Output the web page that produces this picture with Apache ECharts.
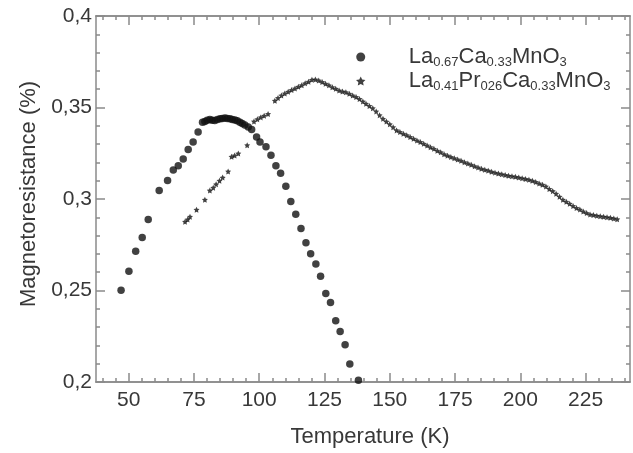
<!DOCTYPE html>
<html>
<head>
<meta charset="utf-8">
<script src="https://cdn.jsdelivr.net/npm/echarts@6/dist/echarts.min.js"></script>
<style>
  html, body { margin: 0; padding: 0; background: #fff; }
  #chartContainer { width: 633px; height: 453px; }
</style>
</head>
<body>
<div id="chartContainer"></div>
<script>
// La0.67Ca0.33MnO3 (dots)
const tempA = [47.1, 50.1, 52.7, 55.2, 57.5, 61.7, 64.9, 67.1, 69.0, 70.9, 72.8, 74.7, 76.6, 78.3,
  79.2, 80.1, 81.1, 82.0, 83.0, 84.0, 85.0, 85.9, 86.9, 87.8, 88.8, 89.7, 90.7, 91.6, 92.6, 93.5, 94.5, 95.8, 97.1,
  99.0, 100.3, 102.6, 104.5, 106.4, 108.2, 110.2, 112.1, 114.0, 116.0, 117.9, 119.7, 121.7, 123.5,
  125.5, 127.3, 129.3, 131.0, 132.9, 134.7, 138.0];
const mrA = [0.2501, 0.2605, 0.2714, 0.2789, 0.2888, 0.3047, 0.3101, 0.3158, 0.3182, 0.3218, 0.3270, 0.3312, 0.3366, 0.3420,
  0.3423, 0.3430, 0.3434, 0.3431, 0.3429, 0.3434, 0.3438, 0.3440, 0.3442, 0.3440, 0.3438, 0.3435, 0.3432, 0.3427, 0.3420, 0.3413, 0.3405, 0.3393, 0.3380,
  0.3339, 0.3312, 0.3285, 0.3239, 0.3182, 0.3141, 0.3069, 0.2986, 0.2917, 0.2839, 0.2761, 0.2701, 0.2645, 0.2578,
  0.2483, 0.2434, 0.2335, 0.2276, 0.2204, 0.2099, 0.2009];

// La0.41Pr0.26Ca0.33MnO3 (stars)
const tempB = [71.6, 72.6, 73.5, 76.0, 79.2, 81.1, 82.4, 83.5, 84.8, 86.0, 88.1, 89.4, 90.6, 92.0, 95.4,
  98.0, 99.3, 100.6, 101.9, 103.4,
  106.0, 107.2, 108.5, 109.8, 111.1, 112.4, 113.7, 115.0, 116.3, 117.6, 118.9, 120.2, 121.5, 122.8, 124.1, 125.4,
  126.7, 128.0, 129.3, 130.6, 131.9, 133.2, 134.5, 135.8, 137.1, 138.4, 139.7,
  140.9, 142.2, 143.5, 144.8, 146.1, 147.4, 148.7, 150.0, 151.3, 152.6, 153.9, 155.2, 156.5, 157.8, 159.1, 160.4,
  161.7, 163.0, 164.3, 165.6, 166.9, 168.2, 169.5, 170.8, 172.1, 173.4, 174.7, 176.0, 177.3, 178.6, 179.9, 181.2,
  182.5, 183.8, 185.1, 186.4, 187.7, 189.0, 190.3, 191.6, 192.9, 194.2, 195.5, 196.8, 198.1, 199.4, 200.7, 202.0,
  203.3, 204.6, 205.9, 207.2, 208.5, 209.8, 211.1, 212.4, 213.7, 215.0, 216.3, 217.6, 218.9, 220.2, 221.5, 222.8,
  224.1, 225.4, 226.7, 228.0, 229.3, 230.6, 231.9, 233.2, 234.5, 235.8, 237.1];
const mrB = [0.2876, 0.2888, 0.2903, 0.2941, 0.2996, 0.3046, 0.3062, 0.3080, 0.3100, 0.3117, 0.3150, 0.3231, 0.3238, 0.3249, 0.3294,
  0.3424, 0.3436, 0.3446, 0.3455, 0.3465,
  0.3537, 0.3552, 0.3566, 0.3577, 0.3586, 0.3595, 0.3604, 0.3613, 0.3622, 0.3632, 0.3641, 0.3651, 0.3653, 0.3648, 0.3639, 0.3630,
  0.3621, 0.3611, 0.3602, 0.3593, 0.3587, 0.3583, 0.3575, 0.3566, 0.3557, 0.3546, 0.3533,
  0.3521, 0.3508, 0.3496, 0.3478, 0.3458, 0.3438, 0.3423, 0.3408, 0.3392, 0.3375, 0.3366, 0.3357, 0.3348, 0.3339, 0.3329, 0.3320,
  0.3311, 0.3302, 0.3292, 0.3283, 0.3274, 0.3264, 0.3255, 0.3245, 0.3237, 0.3230, 0.3223, 0.3216, 0.3209, 0.3201, 0.3194, 0.3187,
  0.3179, 0.3172, 0.3165, 0.3160, 0.3155, 0.3149, 0.3144, 0.3139, 0.3135, 0.3131, 0.3127, 0.3124, 0.3121, 0.3117, 0.3113, 0.3109,
  0.3105, 0.3100, 0.3093, 0.3085, 0.3078, 0.3068, 0.3055, 0.3043, 0.3029, 0.3012, 0.2996, 0.2985, 0.2974, 0.2962, 0.2951, 0.2942,
  0.2932, 0.2923, 0.2915, 0.2912, 0.2909, 0.2906, 0.2903, 0.2900, 0.2897, 0.2893, 0.2889];

const seriesNames = ['La0.67Ca0.33MnO3', 'La0.41Pr026Ca0.33MnO3'];
const xMajorTicks = [50, 75, 100, 125, 150, 175, 200, 225];
const xMinorTicks = [40, 45, 55, 60, 65, 70, 80, 85, 90, 95, 105, 110, 115, 120, 130, 135, 140, 145,
  155, 160, 165, 170, 180, 185, 190, 195, 205, 210, 215, 220, 230, 235, 240];
const yTicks = [0.2, 0.25, 0.3, 0.35, 0.4];

const starPath = 'path://M0,-10L2.9,-4L9.5,-3.1L4.7,1.5L5.9,8.1L0,5L-5.9,8.1L-4.7,1.5L-9.5,-3.1L-2.9,-4Z';
const FONT = 'Liberation Sans, Arial, Helvetica, sans-serif';
const AXIS_COLOR = '#8a8a8a';
const TEXT_COLOR = '#383838';

function pairs(xs, ys) {
    return xs.map((x, i) => [x, ys[i]]);
}

function richName(name) {
    return '{m|' + name.replace(/(\d[\d.]*)/g, '}{s|$1}{m|') + '}';
}

function xAxisDef(position, ticks, len, showLabel) {
    return {
        type: 'value', position: position, min: 37.5, max: 242,
        axisLine: { show: true, lineStyle: { color: AXIS_COLOR, width: 1.5 } },
        axisTick: { show: true, inside: true, length: len, customValues: ticks, lineStyle: { color: AXIS_COLOR, width: 1.5 } },
        axisLabel: showLabel ? {
            show: true, customValues: ticks, margin: 8, color: TEXT_COLOR, fontSize: 21, fontFamily: FONT
        } : { show: false },
        splitLine: { show: false }
    };
}

function yAxisDef(position, showLabel) {
    return {
        type: 'value', position: position, min: yTicks[0], max: yTicks[yTicks.length - 1], interval: 0.05,
        axisLine: { show: true, lineStyle: { color: AXIS_COLOR, width: 1.5 } },
        axisTick: { show: true, inside: true, length: 9, lineStyle: { color: AXIS_COLOR, width: 1.5 } },
        minorTick: { show: true, splitNumber: 5, length: 4, lineStyle: { color: AXIS_COLOR, width: 1.5 } },
        axisLabel: showLabel ? {
            show: true, margin: 4, color: TEXT_COLOR, fontSize: 21, fontFamily: FONT,
            formatter: v => String(+v.toFixed(2)).replace('.', ',')
        } : { show: false },
        splitLine: { show: false }
    };
}

const chart = echarts.init(document.getElementById('chartContainer'), null, { renderer: 'canvas' });

const xBottom = xAxisDef('bottom', xMajorTicks, 9, true);
xBottom.name = 'Temperature (K)';
xBottom.nameLocation = 'middle';
xBottom.nameGap = 44;
xBottom.nameTextStyle = { color: TEXT_COLOR, fontSize: 22, fontFamily: FONT, padding: [0, 0, 0, 14] };

const yLeft = yAxisDef('left', true);
yLeft.name = 'Magnetoresistance (%)';
yLeft.nameLocation = 'middle';
yLeft.nameGap = 56;
yLeft.nameTextStyle = { color: TEXT_COLOR, fontSize: 22, fontFamily: FONT, padding: [0, 0, 0, 10] };

const option = {
    animation: false,
    backgroundColor: '#fff',
    grid: { left: 96, right: 3, top: 16, bottom: 67, containLabel: false },
    legend: {
        orient: 'vertical', left: 351, top: 41,
        itemWidth: 86, itemHeight: 9, itemGap: 1,
        data: [
            { name: seriesNames[0], icon: 'circle' },
            { name: seriesNames[1], icon: starPath }
        ],
        formatter: richName,
        textStyle: {
            color: TEXT_COLOR, fontFamily: FONT,
            rich: {
                m: { fontSize: 22, lineHeight: 24, fontFamily: FONT, color: TEXT_COLOR },
                s: { fontSize: 13, lineHeight: 12, verticalAlign: 'bottom', fontFamily: FONT, color: TEXT_COLOR }
            }
        }
    },
    xAxis: [
        xBottom,
        xAxisDef('bottom', xMinorTicks, 4, false),
        xAxisDef('top', xMajorTicks, 9, false),
        xAxisDef('top', xMinorTicks, 4, false)
    ],
    yAxis: [yLeft, yAxisDef('right', false)],
    series: [
        {
            name: seriesNames[0], type: 'scatter', xAxisIndex: 0, yAxisIndex: 0,
            symbol: 'circle', symbolSize: 7.5,
            itemStyle: { color: '#111' },
            data: pairs(tempA, mrA)
        },
        {
            name: seriesNames[1], type: 'scatter', xAxisIndex: 0, yAxisIndex: 0,
            symbol: starPath, symbolSize: 6,
            itemStyle: { color: '#111' },
            data: pairs(tempB, mrB)
        }
    ]
};

chart.setOption(option);
</script>
</body>
</html>
